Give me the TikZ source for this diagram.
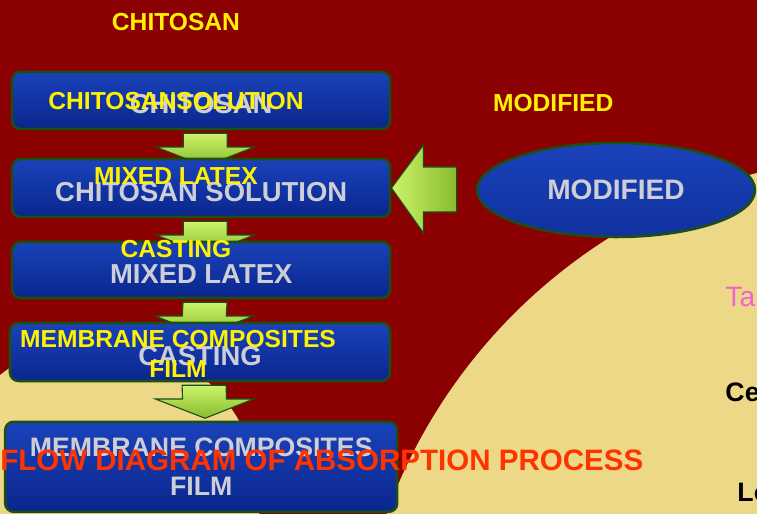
\documentclass[tikz,border=0pt]{standalone}
\usepackage{fontspec}
\setmainfont{Liberation Sans}
\usetikzlibrary{shapes,calc}
\definecolor{fond}{RGB}{139,0,0}
\definecolor{creme}{RGB}{236,216,135}
\definecolor{bleuhaut}{RGB}{26,66,186}
\definecolor{bleubas}{RGB}{10,38,140}
\definecolor{vertfonce}{RGB}{28,78,22}
\definecolor{vertclair}{RGB}{204,244,104}
\definecolor{vertmoyen}{RGB}{136,186,48}
\definecolor{gris}{RGB}{205,206,214}
\definecolor{titre}{RGB}{255,51,0}
\definecolor{rose}{RGB}{240,100,210}
\pgfdeclarelayer{backdrop}
\pgfdeclarelayer{under}
\pgfsetlayers{backdrop,under,main}
\tikzstyle{stage}=[rectangle,rounded corners=6pt,draw=vertfonce,line width=1.8pt,
top color=bleuhaut,bottom color=bleubas,text=gris,minimum width=9.45cm,
font=\bfseries\fontsize{19.5}{23}\selectfont,align=center,inner sep=0pt]
\tikzstyle{lowtext}=[text height=0.66cm]
\tikzstyle{oval}=[ellipse,draw=vertfonce,line width=1.8pt,
top color=bleuhaut,bottom color=bleubas!60!bleuhaut,text=gris,
font=\bfseries\fontsize{20}{24}\selectfont,minimum width=6.95cm,minimum height=2.35cm]
\tikzstyle{overtext}=[text=yellow,font=\bfseries\fontsize{17.5}{21}\selectfont,
align=center,inner sep=0pt]
\tikzstyle{greenarrow}=[draw=vertfonce,line width=0.8pt,top color=vertclair,bottom color=vertmoyen]
% fat arrow going down from one box to the next
\newcommand{\flowarrow}[2]{%
  \coordinate (sA) at ($(#1.south)!0.075cm!(#2.north)$);
  \coordinate (hA) at ($(#1.south)!0.42cm!(#2.north)$);
  \coordinate (tA) at ($(#1.south)!0.9cm!(#2.north)$);
  \draw[greenarrow] ($(sA)+(-0.45,0)$) -- ($(sA)+(0.65,0)$) -- ($(hA)+(0.65,0)$)
    -- ($(hA)+(1.325,0)$) -- ($(tA)+(0.1,0)$) -- ($(hA)+(-1.125,0)$)
    -- ($(hA)+(-0.45,0)$) -- cycle;}

\begin{document}
\begin{tikzpicture}
  \useasboundingbox (0,0) rectangle (18.925,12.85);
  \begin{pgfonlayer}{backdrop}
    \begin{scope}
      \clip (0,0) rectangle (18.925,12.85);
      \fill[fond] (0,0) rectangle (18.925,12.85);
      \fill[creme] (22.5,-4.65) circle (13.65);
      \fill[creme] (2.5,0.35) circle (4.0);
    \end{scope}
  \end{pgfonlayer}

  % boxes
  \node[stage,lowtext,minimum height=1.43cm] (chitosan) at (5.03,10.34) {CHITOSAN};
  \node[stage,lowtext,minimum height=1.45cm] (solution) at (5.03,8.15) {CHITOSAN SOLUTION};
  \node[stage,lowtext,minimum height=1.40cm] (latex) at (5.03,6.10) {MIXED LATEX};
  \node[stage,lowtext,minimum width=9.5cm,minimum height=1.45cm] (casting) at (5.00,4.05) {CASTING};
  \node[stage,minimum width=9.8cm,minimum height=2.25cm,
    font=\bfseries\fontsize{19}{27.5}\selectfont] (film) at (5.03,1.18) {MEMBRANE COMPOSITES\\FILM};
  \node[oval] (mod) at (15.40,8.10) {MODIFIED};

  % arrows
  \begin{pgfonlayer}{under}
    \flowarrow{chitosan}{solution}
    \flowarrow{solution}{latex}
    \flowarrow{latex}{casting}
    \flowarrow{casting}{film}
    \draw[greenarrow,left color=vertclair,right color=vertmoyen] (solution.east)
      -- ($(solution.east)+(0.8,1.075)$) -- ($(solution.east)+(0.8,0.525)$)
      -- ($(mod.west)+(-0.475,0.575)$) -- ($(mod.west)+(-0.475,-0.55)$)
      -- ($(solution.east)+(0.8,-0.6)$) -- ($(solution.east)+(0.8,-1.125)$) -- cycle;
  \end{pgfonlayer}

  % yellow labels
  \node[overtext] (y1) at (4.40,12.30) {CHITOSAN};
  \node[overtext] (y2) at (4.40,10.33) {CHITOSANSOLUTION};
  \node[overtext] (y3) at (4.40,8.45) {MIXED LATEX};
  \node[overtext] (y4) at (4.40,6.63) {CASTING};
  \node[overtext] (y5) at (4.45,4.00) {MEMBRANE COMPOSITES\\FILM};
  \node[overtext] (y6) at (13.83,10.28) {MODIFIED};

  \node[anchor=west,inner sep=0pt,text=titre,font=\bfseries\fontsize{21}{25}\selectfont]
    (titre) at (0,1.35) {FLOW DIAGRAM OF ABSORPTION PROCESS};

  % cut texts on the right
  \node[anchor=west,inner sep=0pt,text=rose,font=\fontsize{20}{24}\selectfont] (ta) at (18.13,5.43) {Ta};
  \node[anchor=west,inner sep=0pt,font=\bfseries\fontsize{19}{23}\selectfont] (ce) at (18.13,3.03) {Ce};
  \node[anchor=west,inner sep=0pt,font=\bfseries\fontsize{19}{23}\selectfont] (lo) at (18.43,0.53) {Lo};
\end{tikzpicture}
\end{document}
